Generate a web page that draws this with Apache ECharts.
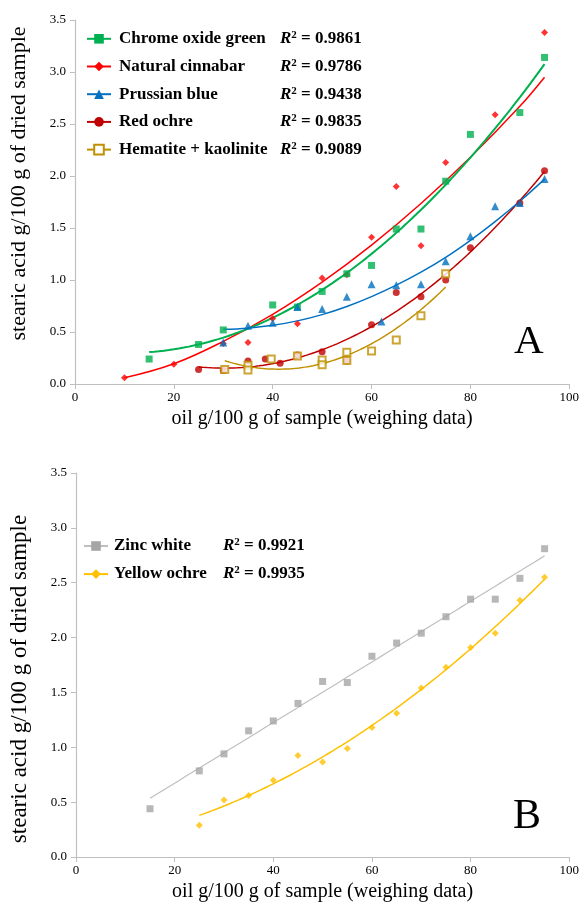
<!DOCTYPE html>
<html><head><meta charset="utf-8">
<script src="https://cdn.jsdelivr.net/npm/echarts@6/dist/echarts.min.js"></script>
<style>html,body{margin:0;padding:0;background:#fff}#c{width:582px;height:910px}</style>
</head><body><div id="c"></div>
<script>
const chromeX    = [15, 25, 30, 40, 45, 50, 55, 60, 65, 70, 75, 80, 90, 95];
const chromeY    = [0.24, 0.38, 0.52, 0.76, 0.74, 0.89, 1.06, 1.14, 1.49, 1.49, 1.95, 2.40, 2.61, 3.14];
const cinnabarX  = [10, 20, 30, 35, 40, 45, 50, 55, 60, 65, 70, 75, 85, 95];
const cinnabarY  = [0.06, 0.19, 0.39, 0.40, 0.63, 0.58, 1.02, 1.05, 1.41, 1.90, 1.33, 2.13, 2.59, 3.38];
const prussianX  = [30, 35, 40, 45, 50, 55, 60, 62, 65, 70, 75, 80, 85, 90, 95];
const prussianY  = [0.40, 0.56, 0.59, 0.74, 0.72, 0.84, 0.96, 0.60, 0.95, 0.96, 1.18, 1.42, 1.71, 1.74, 1.97];
const redOchreX  = [25, 30, 35, 38.5, 41.5, 45, 50, 55, 60, 65, 70, 75, 80, 90, 95];
const redOchreY  = [0.14, 0.13, 0.22, 0.24, 0.20, 0.28, 0.31, 0.22, 0.57, 0.88, 0.84, 1.00, 1.31, 1.74, 2.05];
const hematiteX  = [30.3, 35, 35, 39.7, 45, 50, 50, 55, 55, 60, 65, 70, 75];
const hematiteY  = [0.14, 0.18, 0.135, 0.24, 0.27, 0.23, 0.186, 0.305, 0.225, 0.317, 0.423, 0.657, 1.06];
const zincX      = [15, 25, 30, 35, 40, 45, 50, 55, 60, 65, 70, 75, 80, 85, 90, 95];
const zincY      = [0.44, 0.785, 0.94, 1.15, 1.24, 1.40, 1.60, 1.59, 1.83, 1.95, 2.04, 2.19, 2.35, 2.35, 2.54, 2.81];
const yellowX    = [25, 30, 35, 40, 45, 50, 55, 60, 65, 70, 75, 80, 85, 90, 95];
const yellowY    = [0.29, 0.52, 0.56, 0.70, 0.925, 0.865, 0.99, 1.18, 1.31, 1.54, 1.73, 1.91, 2.04, 2.34, 2.55];

// trendlines (hidden points make a refit unreliable)
const cinnabarTrendX = [10, 20, 30, 40, 50, 60, 70, 80, 90, 95];
const cinnabarTrendY = [0.06, 0.195, 0.41, 0.67, 0.98, 1.335, 1.735, 2.18, 2.67, 2.95];
const prussianTrendX = [30, 35, 40, 45, 50, 55, 60, 65, 70, 75, 80, 85, 90, 95];
const prussianTrendY = [0.526, 0.537, 0.564, 0.607, 0.667, 0.745, 0.84, 0.95, 1.075, 1.218, 1.382, 1.562, 1.757, 1.97];

const namesA = ['Chrome oxide green', 'Natural cinnabar', 'Prussian blue', 'Red ochre', 'Hematite + kaolinite'];
const r2A    = ['0.9861', '0.9786', '0.9438', '0.9835', '0.9089'];
const namesB = ['Zinc white', 'Yellow ochre'];
const r2B    = ['0.9921', '0.9935'];
const xTickLabels = ['0', '20', '40', '60', '80', '100'];
const yTickLabels = ['0.0', '0.5', '1.0', '1.5', '2.0', '2.5', '3.0', '3.5'];
const xTitle = 'oil g/100 g of sample (weighing data)';
const yTitle = 'stearic acid g/100 g of dried sample';
const panelLetters = ['A', 'B'];

// ---------- least-squares trendlines (polynomial order 2, or linear) ----------
function polyFit(xs, ys, order) {
  const n = order + 1, S = new Array(2 * n).fill(0), T = new Array(n).fill(0);
  for (let i = 0; i < xs.length; i++) {
    let p = 1;
    for (let k = 0; k < 2 * n; k++) { S[k] += p; if (k < n) T[k] += p * ys[i]; p *= xs[i]; }
  }
  const M = [];
  for (let r = 0; r < n; r++) { const row = []; for (let c = 0; c < n; c++) row.push(S[r + c]); row.push(T[r]); M.push(row); }
  for (let c = 0; c < n; c++) {
    let piv = c;
    for (let r = c + 1; r < n; r++) if (Math.abs(M[r][c]) > Math.abs(M[piv][c])) piv = r;
    [M[c], M[piv]] = [M[piv], M[c]];
    for (let r = 0; r < n; r++) if (r !== c) {
      const f = M[r][c] / M[c][c];
      for (let k = c; k <= n; k++) M[r][k] -= f * M[c][k];
    }
  }
  const a = M.map((row, i) => row[n] / row[i]);
  const lo = Math.min(...xs), hi = Math.max(...xs), pts = [];
  for (let s = 0; s <= 80; s++) {
    const x = lo + (hi - lo) * s / 80;
    let y = 0, p = 1;
    for (let k = 0; k < n; k++) { y += a[k] * p; p *= x; }
    pts.push([x, y]);
  }
  return pts;
}
const zip = (xs, ys) => xs.map((x, i) => [x, ys[i]]);

const serif = 'Liberation Serif';
function pair(name, pts, trend, smooth, color, symbol, size, lw, grid, lineColor, extra) {
  return [
    { type: 'line', name, xAxisIndex: grid, yAxisIndex: grid, data: trend,
      showSymbol: false, symbol, smooth, color, z: 2,
      lineStyle: { color: lineColor || color, width: lw }, itemStyle: { color }, emphasis: { disabled: true } },
    Object.assign({ type: 'scatter', name, xAxisIndex: grid, yAxisIndex: grid, data: pts,
      symbol, symbolSize: size, itemStyle: { color }, z: 3, emphasis: { disabled: true } }, extra || {})
  ];
}

const series = [].concat(
  pair(namesA[1], zip(cinnabarX, cinnabarY), zip(cinnabarTrendX, cinnabarTrendY), 0.4, '#FF0000', 'diamond', 7, 1.5, 0),
  pair(namesA[0], zip(chromeX, chromeY), polyFit(chromeX, chromeY, 2), false, '#00B050', 'rect', 7, 2, 0),
  pair(namesA[3], zip(redOchreX, redOchreY), polyFit(redOchreX, redOchreY, 2), false, '#C00000', 'circle', 7, 1.5, 0),
  pair(namesA[4], zip(hematiteX, hematiteY), polyFit(hematiteX, hematiteY, 2), false, '#BF9000', 'emptyRect', 7, 1.5, 0, null,
       { itemStyle: { color: '#BF9000', borderColor: '#BF9000', borderWidth: 1.2 } }),
  pair(namesA[2], zip(prussianX, prussianY), zip(prussianTrendX, prussianTrendY), 0.4, '#0070C0', 'triangle', 8, 1.5, 0),
  pair(namesB[0], zip(zincX, zincY), polyFit(zincX, zincY, 1), false, '#A5A5A5', 'rect', 7, 1.2, 1, '#BFBFBF'),
  pair(namesB[1], zip(yellowX, yellowY), polyFit(yellowX, yellowY, 2), false, '#FFC000', 'diamond', 7, 1.5, 1)
);

function xAxis(grid, gap) {
  return { type: 'value', gridIndex: grid, min: 0, max: 100, interval: 20,
    name: xTitle, nameLocation: 'middle', nameGap: gap,
    nameTextStyle: { fontFamily: serif, fontSize: 20, color: '#000' },
    axisLine: { lineStyle: { color: '#BFBFBF', width: 1.2 } },
    axisTick: { show: true, length: 5, lineStyle: { color: '#BFBFBF' } },
    axisLabel: { fontFamily: serif, fontSize: 13, color: '#000', margin: 7,
      formatter: v => xTickLabels[Math.round(v / 20)] },
    splitLine: { show: false } };
}
function yAxis(grid, pad, fs) {
  return { type: 'value', gridIndex: grid, min: 0, max: 3.5, interval: 0.5,
    name: yTitle, nameLocation: 'middle', nameGap: 45,
    nameTextStyle: { fontFamily: serif, fontSize: fs, color: '#000', padding: pad },
    axisLine: { show: true, lineStyle: { color: '#BFBFBF', width: 1.2 } },
    axisTick: { show: true, length: 5, lineStyle: { color: '#BFBFBF' } },
    axisLabel: { fontFamily: serif, fontSize: 13, color: '#000', margin: 9,
      formatter: v => yTickLabels[Math.round(v / 0.5)] },
    splitLine: { show: false } };
}

function legend(names, r2s, left, top, gap, padL, nameW) {
  const b = { fontFamily: serif, fontSize: 17, fontWeight: 'bold', color: '#000', height: 18 };
  return { orient: 'vertical', left, top, padding: 0, itemWidth: 24, itemHeight: 12, itemGap: gap,
    selectedMode: false, data: names,
    formatter: n => `{n|${n}}{r|R}{s|2}{e| = ${r2s[names.indexOf(n)]}}`,
    textStyle: Object.assign({}, b, {
      rich: {
        n: Object.assign({}, b, { width: nameW, padding: [0, 0, 0, padL] }),
        r: Object.assign({}, b, { fontStyle: 'italic' }),
        s: { fontFamily: serif, fontSize: 11, fontWeight: 'bold', color: '#000', verticalAlign: 'top', lineHeight: 11, padding: [0, 0, 0, 0] },
        e: b
      } }) };
}

const chart = echarts.init(document.getElementById('c'), null, { renderer: 'canvas' });
chart.setOption({
  animation: false,
  backgroundColor: '#fff',
  grid: [
    { left: 75, top: 20, width: 496, height: 364 },
    { left: 75.5, top: 473, width: 497, height: 384 }
  ],
  xAxis: [xAxis(0, 25), xAxis(1, 25)],
  yAxis: [yAxis(0, [0, 0, 0, 37], 22), yAxis(1, [0, 28, 0, 0], 23)],
  legend: [legend(namesA, r2A, 86, 29.8, 10.2, 3, 161), legend(namesB, r2B, 83, 537, 10.6, 1, 109)],
  graphic: [
    { type: 'text', left: 514, top: 322, style: { text: panelLetters[0], fontFamily: serif, fontSize: 41, fill: '#000' } },
    { type: 'text', left: 513, top: 796, style: { text: panelLetters[1], fontFamily: serif, fontSize: 42, fill: '#000' } }
  ],
  series
});
</script></body></html>
